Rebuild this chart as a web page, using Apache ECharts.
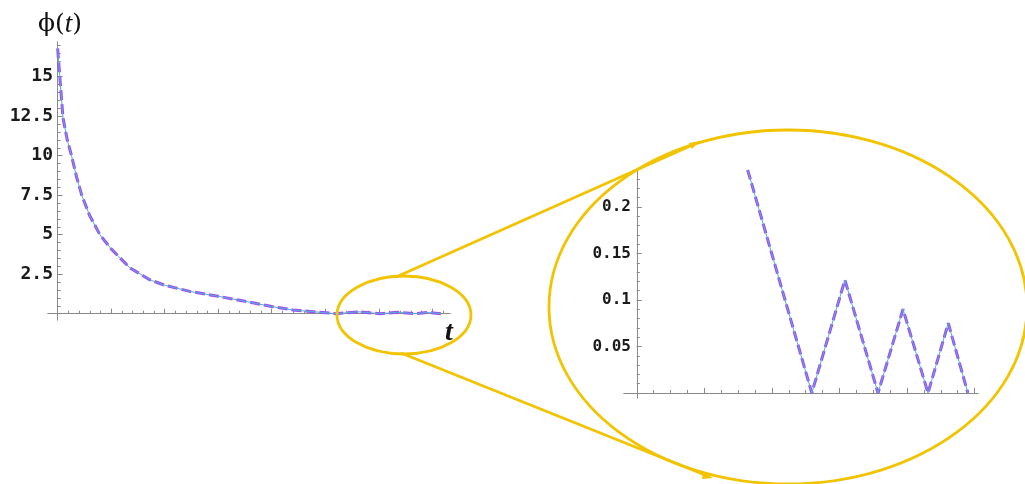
<!DOCTYPE html>
<html>
<head>
<meta charset="utf-8">
<script src="https://cdn.jsdelivr.net/npm/echarts@6/dist/echarts.min.js"></script>
<style>
  html, body { margin: 0; padding: 0; background: #fff; }
  #chart { width: 1025px; height: 484px; }
</style>
</head>
<body>
<div id="chart"></div>
<script>
// main curve phi(t)
const mainT = [0, 0.05, 0.1, 0.18, 0.26, 0.35, 0.45, 0.6, 0.79, 1.0, 1.35, 1.72, 2.0, 2.47, 3.0, 3.4, 4.0, 4.39, 5.2, 5.62, 6.03, 6.35, 6.66, 6.92, 7.16]
const mainPhi = [16.8, 14.6, 12.4, 11.0, 10.0, 8.7, 7.5, 6.2, 5.0, 4.1, 2.9, 2.15, 1.8, 1.41, 1.1, 0.85, 0.45, 0.24, 0, 0.12, 0, 0.09, 0, 0.075, 0]

// zoomed part near zero
const insetT = [1.64, 2.59, 3.08, 3.57, 3.94, 4.31, 4.61, 4.90]
const insetPhi = [0.24, 0, 0.1215, 0, 0.09, 0, 0.075, 0]

// ticks
const mainXMajor = [0, 1, 2, 3, 4, 5, 6, 7]
const mainYLabels = [2.5, 5, 7.5, 10, 12.5, 15]
const insetXMajor = [0, 1, 2, 3, 4, 5]
const insetYLabels = [0.05, 0.1, 0.15, 0.2]

const steps = (from, to, step) => {
  const out = []
  for (let v = from; v <= to + 1e-9; v += step) out.push(Math.round(v * 1000) / 1000)
  return out
}
const mainXMinor = steps(0, 7.2, 0.2)
const mainYMinor = steps(0, 17, 0.5)
const insetXMinor = steps(0, 5, 0.25)
const insetYMinor = steps(0, 0.23, 0.01)

const purple = '#9f4cf0'
const blue = '#57abe0'
const yellow = '#f2c300'
const axisGray = '#8a8a8a'
const labelFont = {
  fontFamily: 'DejaVu Sans Mono',
  fontWeight: 'bold',
  color: '#1a1a1a',
}

const zip = (xs, ys) => xs.map((x, i) => [x, ys[i]])

const xAxisOf = (grid, min, max, ticks, len, main) => ({
  type: 'value',
  gridIndex: grid,
  position: 'bottom',
  min,
  max,
  axisLine: { show: true, onZero: true, lineStyle: { color: axisGray, width: 1 } },
  axisTick: { show: true, inside: true, length: len, customValues: ticks, lineStyle: { color: axisGray } },
  axisLabel: { show: false },
  splitLine: { show: false },
  z: main ? 3 : 2,
})
const yAxisOf = (grid, min, max, ticks, len, labels, size, margin) => ({
  type: 'value',
  gridIndex: grid,
  position: 'left',
  min,
  max,
  axisLine: { show: true, onZero: true, lineStyle: { color: axisGray, width: 1 } },
  axisTick: { show: true, inside: true, length: len, customValues: ticks, lineStyle: { color: axisGray } },
  axisLabel: labels
    ? { show: true, margin, fontSize: size, customValues: labels, ...labelFont }
    : { show: false },
  splitLine: { show: false },
})

const myChart = echarts.init(document.getElementById('chart'))
const option = {
  animation: false,
  backgroundColor: '#fff',
  title: {
    text: '{a|ϕ(}{b|t}{a|)}',
    left: 33,
    top: 6,
    textStyle: {
      rich: {
        a: { fontFamily: 'DejaVu Serif', fontSize: 25, fontWeight: 'normal', color: '#111' },
        b: { fontFamily: 'Liberation Serif', fontSize: 27, fontStyle: 'italic', fontWeight: 'normal', color: '#111' },
      },
    },
  },
  grid: [
    { left: 48, top: 42, width: 402, height: 278 },
    { left: 624, top: 170, width: 354, height: 228 },
  ],
  xAxis: [
    xAxisOf(0, -0.18, 7.33, mainXMajor, 5, true),
    xAxisOf(0, -0.18, 7.33, mainXMinor, 3, false),
    xAxisOf(1, -0.19, 5.05, insetXMajor, 5, true),
    xAxisOf(1, -0.19, 5.05, insetXMinor, 3, false),
  ],
  yAxis: [
    yAxisOf(0, -0.4, 17.2, mainYLabels, 5, mainYLabels, 18, -5),
    yAxisOf(0, -0.4, 17.2, mainYMinor, 3, null),
    yAxisOf(1, -0.0054, 0.2398, insetYLabels, 5, insetYLabels, 16, -7),
    yAxisOf(1, -0.0054, 0.2398, insetYMinor, 3, null),
  ],
  series: [
    {
      type: 'line',
      xAxisIndex: 0,
      yAxisIndex: 0,
      data: zip(mainT, mainPhi),
      showSymbol: false,
      lineStyle: { color: purple, width: 3, type: [10, 4] },
      z: 4,
    }, {
      type: 'line',
      xAxisIndex: 0,
      yAxisIndex: 0,
      data: zip(mainT, mainPhi),
      showSymbol: false,
      lineStyle: { color: blue, width: 1 },
      z: 5,
    }, {
      type: 'line',
      xAxisIndex: 2,
      yAxisIndex: 2,
      data: zip(insetT, insetPhi),
      showSymbol: false,
      lineStyle: { color: purple, width: 3, type: [10, 4] },
      z: 4,
    }, {
      type: 'line',
      xAxisIndex: 2,
      yAxisIndex: 2,
      data: zip(insetT, insetPhi),
      showSymbol: false,
      lineStyle: { color: blue, width: 1 },
      z: 5,
    }],
  graphic: [
    {
      type: 'text',
      left: 445,
      top: 319,
      style: { text: 't', font: 'italic bold 28px "Liberation Serif"', fill: '#111' },
    }, {
      type: 'ellipse',
      shape: { cx: 404, cy: 315, rx: 67, ry: 39 },
      style: { fill: 'none', stroke: yellow, lineWidth: 2.8 },
      z: 10,
    }, {
      type: 'ellipse',
      shape: { cx: 788, cy: 307, rx: 239, ry: 177 },
      style: { fill: 'none', stroke: yellow, lineWidth: 2.8 },
      z: 10,
    }, {
      type: 'line',
      shape: { x1: 396, y1: 277, x2: 697, y2: 143 },
      style: { stroke: yellow, lineWidth: 2.8 },
      z: 10,
    }, {
      type: 'line',
      shape: { x1: 401, y1: 353, x2: 710, y2: 477 },
      style: { stroke: yellow, lineWidth: 2.8 },
      z: 10,
    }, {
      type: 'polygon',
      shape: { points: [[700, 141], [689, 143], [692, 149]] },
      style: { fill: yellow },
      z: 10,
    }, {
      type: 'polygon',
      shape: { points: [[713, 478], [703, 472], [702, 479]] },
      style: { fill: yellow },
      z: 10,
    }],
}
myChart.setOption(option)
</script>
</body>
</html>
